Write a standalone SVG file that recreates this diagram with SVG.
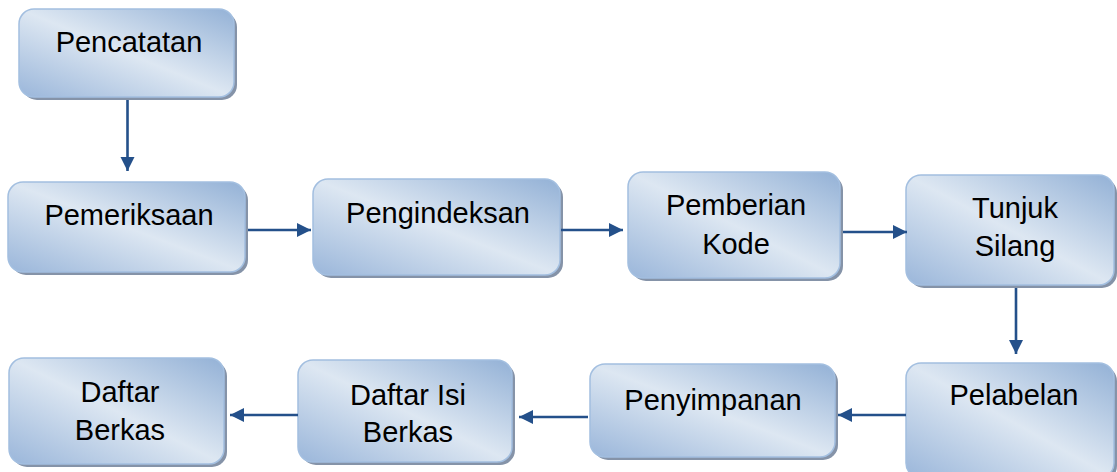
<svg xmlns="http://www.w3.org/2000/svg" width="1117" height="472" viewBox="0 0 1117 472">
<defs>
<linearGradient id="g" x1="1" y1="0" x2="0" y2="1">
<stop offset="0" stop-color="#93b1d6"/>
<stop offset="0.5" stop-color="#dde7f2"/>
<stop offset="1" stop-color="#9ab6da"/>
</linearGradient>
<marker id="ah" viewBox="0 0 10 10" refX="10" refY="5" markerWidth="5.5" markerHeight="5.5" orient="auto" markerUnits="strokeWidth">
<path d="M0,0 L10,5 L0,10 z" fill="#24508a"/>
</marker>
</defs>
<style>
.sh{fill:#8593a8;}
.bx{fill:url(#g);stroke:#a3bfe0;stroke-width:1.5;}
.t{font-family:"Liberation Sans",Arial,sans-serif;font-size:29px;fill:#000;text-anchor:middle;}
.c{stroke:#24508a;stroke-width:2.6;fill:none;marker-end:url(#ah);}
</style>
<rect width="1117" height="472" fill="#fff"/>
<g id="n1"><rect class="sh" x="22" y="12" width="215" height="88" rx="15"/><rect class="bx" x="19" y="9" width="215" height="88" rx="15"/><text class="t" x="129" y="52">Pencatatan</text></g>
<g id="n2"><rect class="sh" x="11" y="185" width="237" height="90" rx="15"/><rect class="bx" x="8" y="182" width="237" height="90" rx="15"/><text class="t" x="129" y="225">Pemeriksaan</text></g>
<g id="n3"><rect class="sh" x="316" y="182" width="247" height="96" rx="15"/><rect class="bx" x="313" y="179" width="247" height="96" rx="15"/><text class="t" x="438" y="223">Pengindeksan</text></g>
<g id="n4"><rect class="sh" x="631" y="175" width="212" height="106" rx="15"/><rect class="bx" x="628" y="172" width="212" height="106" rx="15"/><text class="t" x="736" y="215">Pemberian</text><text class="t" x="736" y="254">Kode</text></g>
<g id="n5"><rect class="sh" x="909" y="178" width="208" height="110" rx="15"/><rect class="bx" x="906" y="175" width="208" height="110" rx="15"/><text class="t" x="1015" y="218">Tunjuk</text><text class="t" x="1015" y="256">Silang</text></g>
<g id="n6"><rect class="sh" x="909" y="366" width="208" height="115" rx="15"/><rect class="bx" x="906" y="363" width="208" height="115" rx="15"/><text class="t" x="1014" y="405">Pelabelan</text></g>
<g id="n7"><rect class="sh" x="593" y="367" width="245" height="93" rx="15"/><rect class="bx" x="590" y="364" width="245" height="93" rx="15"/><text class="t" x="713" y="410">Penyimpanan</text></g>
<g id="n8"><rect class="sh" x="301" y="363" width="214" height="102" rx="15"/><rect class="bx" x="298" y="360" width="214" height="102" rx="15"/><text class="t" x="408" y="405">Daftar Isi</text><text class="t" x="408" y="442">Berkas</text></g>
<g id="n9"><rect class="sh" x="12" y="361" width="215" height="106" rx="15"/><rect class="bx" x="9" y="358" width="215" height="106" rx="15"/><text class="t" x="120" y="402">Daftar</text><text class="t" x="120" y="440">Berkas</text></g>
<g id="connectors">
<line class="c" x1="127.5" y1="100" x2="127.5" y2="171"/>
<line class="c" x1="248" y1="230" x2="311" y2="230"/>
<line class="c" x1="561" y1="230" x2="623" y2="230"/>
<line class="c" x1="843" y1="232" x2="907" y2="232"/>
<line class="c" x1="1016" y1="288" x2="1016" y2="354"/>
<line class="c" x1="906" y1="415" x2="838" y2="415"/>
<line class="c" x1="588" y1="417" x2="519" y2="417"/>
<line class="c" x1="298" y1="415" x2="230" y2="415"/>
</g>
</svg>
